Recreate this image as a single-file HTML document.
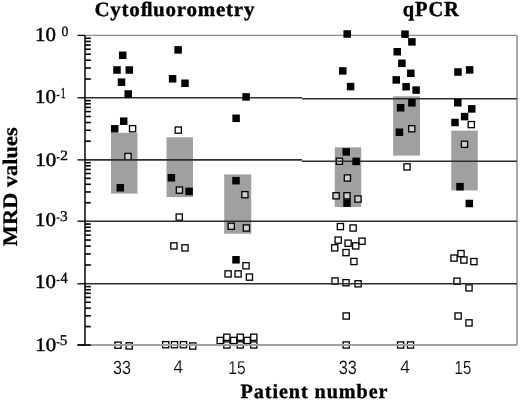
<!DOCTYPE html>
<html><head><meta charset="utf-8"><style>
html,body{margin:0;padding:0;background:#fff;}
body{width:520px;height:401px;overflow:hidden;}
svg{display:block;will-change:transform;text-rendering:geometricPrecision;}
</style></head><body>
<svg width="520" height="401" viewBox="0 0 520 401">
<rect width="520" height="401" fill="#fff"/>
<line x1="85.00" y1="35.4" x2="517.00" y2="35.4" stroke="#8c8c8c" stroke-width="1.2"/>
<line x1="517.00" y1="35.4" x2="517.00" y2="345" stroke="#8c8c8c" stroke-width="1.5"/>
<rect x="111.00" y="132.80" width="26.50" height="60.80" fill="#a0a0a0"/>
<rect x="166.50" y="137.25" width="26.50" height="59.85" fill="#a0a0a0"/>
<rect x="224.20" y="174.40" width="27.05" height="59.35" fill="#a0a0a0"/>
<rect x="334.75" y="147.30" width="26.50" height="59.70" fill="#a0a0a0"/>
<rect x="393.10" y="96.25" width="26.90" height="59.35" fill="#a0a0a0"/>
<rect x="451.25" y="130.60" width="26.50" height="59.80" fill="#a0a0a0"/>
<rect x="129.50" y="125.60" width="6.20" height="6.20" fill="#fff" stroke="#000" stroke-width="1.30"/>
<rect x="124.90" y="153.40" width="6.20" height="6.20" fill="#d0d0d0" stroke="#000" stroke-width="1.30"/>
<rect x="114.90" y="342.10" width="6.20" height="6.20" fill="#fff" stroke="#000" stroke-width="1.30"/>
<rect x="126.10" y="342.80" width="6.20" height="6.20" fill="#fff" stroke="#000" stroke-width="1.30"/>
<rect x="175.15" y="127.00" width="6.20" height="6.20" fill="#fff" stroke="#000" stroke-width="1.30"/>
<rect x="176.30" y="187.00" width="6.20" height="6.20" fill="#d0d0d0" stroke="#000" stroke-width="1.30"/>
<rect x="176.15" y="214.00" width="6.20" height="6.20" fill="#fff" stroke="#000" stroke-width="1.30"/>
<rect x="170.80" y="242.80" width="6.20" height="6.20" fill="#fff" stroke="#000" stroke-width="1.30"/>
<rect x="181.90" y="244.80" width="6.20" height="6.20" fill="#fff" stroke="#000" stroke-width="1.30"/>
<rect x="162.60" y="341.60" width="6.20" height="6.20" fill="#fff" stroke="#000" stroke-width="1.30"/>
<rect x="171.40" y="341.60" width="6.20" height="6.20" fill="#fff" stroke="#000" stroke-width="1.30"/>
<rect x="180.40" y="341.60" width="6.20" height="6.20" fill="#fff" stroke="#000" stroke-width="1.30"/>
<rect x="189.65" y="342.90" width="6.20" height="6.20" fill="#fff" stroke="#000" stroke-width="1.30"/>
<rect x="241.80" y="191.60" width="6.20" height="6.20" fill="#d0d0d0" stroke="#000" stroke-width="1.30"/>
<rect x="228.15" y="223.15" width="6.20" height="6.20" fill="#d0d0d0" stroke="#000" stroke-width="1.30"/>
<rect x="243.30" y="224.90" width="6.20" height="6.20" fill="#d0d0d0" stroke="#000" stroke-width="1.30"/>
<rect x="242.90" y="262.70" width="6.20" height="6.20" fill="#fff" stroke="#000" stroke-width="1.30"/>
<rect x="225.00" y="270.80" width="6.20" height="6.20" fill="#fff" stroke="#000" stroke-width="1.30"/>
<rect x="235.00" y="270.80" width="6.20" height="6.20" fill="#fff" stroke="#000" stroke-width="1.30"/>
<rect x="246.30" y="274.00" width="6.20" height="6.20" fill="#fff" stroke="#000" stroke-width="1.30"/>
<rect x="217.10" y="337.35" width="6.20" height="6.20" fill="#fff" stroke="#000" stroke-width="1.30"/>
<rect x="230.60" y="337.35" width="6.20" height="6.20" fill="#fff" stroke="#000" stroke-width="1.30"/>
<rect x="244.10" y="337.35" width="6.20" height="6.20" fill="#fff" stroke="#000" stroke-width="1.30"/>
<rect x="223.75" y="334.15" width="6.20" height="6.20" fill="#fff" stroke="#000" stroke-width="1.30"/>
<rect x="223.75" y="341.85" width="6.20" height="6.20" fill="#fff" stroke="#000" stroke-width="1.30"/>
<rect x="237.20" y="334.15" width="6.20" height="6.20" fill="#fff" stroke="#000" stroke-width="1.30"/>
<rect x="237.20" y="341.85" width="6.20" height="6.20" fill="#fff" stroke="#000" stroke-width="1.30"/>
<rect x="250.70" y="334.15" width="6.20" height="6.20" fill="#fff" stroke="#000" stroke-width="1.30"/>
<rect x="250.70" y="341.85" width="6.20" height="6.20" fill="#fff" stroke="#000" stroke-width="1.30"/>
<rect x="336.30" y="158.15" width="6.20" height="6.20" fill="#d0d0d0" stroke="#000" stroke-width="1.30"/>
<rect x="344.30" y="174.90" width="6.20" height="6.20" fill="#d0d0d0" stroke="#000" stroke-width="1.30"/>
<rect x="333.00" y="192.70" width="6.20" height="6.20" fill="#d0d0d0" stroke="#000" stroke-width="1.30"/>
<rect x="343.90" y="192.70" width="6.20" height="6.20" fill="#d0d0d0" stroke="#000" stroke-width="1.30"/>
<rect x="354.90" y="195.90" width="6.20" height="6.20" fill="#d0d0d0" stroke="#000" stroke-width="1.30"/>
<rect x="337.30" y="223.50" width="6.20" height="6.20" fill="#fff" stroke="#000" stroke-width="1.30"/>
<rect x="350.00" y="224.90" width="6.20" height="6.20" fill="#fff" stroke="#000" stroke-width="1.30"/>
<rect x="335.10" y="237.00" width="6.20" height="6.20" fill="#fff" stroke="#000" stroke-width="1.30"/>
<rect x="345.00" y="240.10" width="6.20" height="6.20" fill="#fff" stroke="#000" stroke-width="1.30"/>
<rect x="358.90" y="238.10" width="6.20" height="6.20" fill="#fff" stroke="#000" stroke-width="1.30"/>
<rect x="352.60" y="242.80" width="6.20" height="6.20" fill="#fff" stroke="#000" stroke-width="1.30"/>
<rect x="331.60" y="244.75" width="6.20" height="6.20" fill="#fff" stroke="#000" stroke-width="1.30"/>
<rect x="342.90" y="249.50" width="6.20" height="6.20" fill="#fff" stroke="#000" stroke-width="1.30"/>
<rect x="350.80" y="258.40" width="6.20" height="6.20" fill="#fff" stroke="#000" stroke-width="1.30"/>
<rect x="331.90" y="277.90" width="6.20" height="6.20" fill="#fff" stroke="#000" stroke-width="1.30"/>
<rect x="342.90" y="279.60" width="6.20" height="6.20" fill="#fff" stroke="#000" stroke-width="1.30"/>
<rect x="355.00" y="280.70" width="6.20" height="6.20" fill="#fff" stroke="#000" stroke-width="1.30"/>
<rect x="343.10" y="312.90" width="6.20" height="6.20" fill="#fff" stroke="#000" stroke-width="1.30"/>
<rect x="343.10" y="341.90" width="6.20" height="6.20" fill="#fff" stroke="#000" stroke-width="1.30"/>
<rect x="408.65" y="125.65" width="6.20" height="6.20" fill="#d0d0d0" stroke="#000" stroke-width="1.30"/>
<rect x="403.90" y="163.80" width="6.20" height="6.20" fill="#fff" stroke="#000" stroke-width="1.30"/>
<rect x="397.50" y="341.90" width="6.20" height="6.20" fill="#fff" stroke="#000" stroke-width="1.30"/>
<rect x="407.40" y="341.90" width="6.20" height="6.20" fill="#fff" stroke="#000" stroke-width="1.30"/>
<rect x="468.20" y="121.50" width="6.20" height="6.20" fill="#fff" stroke="#000" stroke-width="1.30"/>
<rect x="461.40" y="141.20" width="6.20" height="6.20" fill="#d0d0d0" stroke="#000" stroke-width="1.30"/>
<rect x="457.90" y="250.50" width="6.20" height="6.20" fill="#fff" stroke="#000" stroke-width="1.30"/>
<rect x="450.90" y="255.00" width="6.20" height="6.20" fill="#fff" stroke="#000" stroke-width="1.30"/>
<rect x="460.80" y="256.90" width="6.20" height="6.20" fill="#fff" stroke="#000" stroke-width="1.30"/>
<rect x="470.80" y="258.50" width="6.20" height="6.20" fill="#fff" stroke="#000" stroke-width="1.30"/>
<rect x="453.90" y="278.10" width="6.20" height="6.20" fill="#fff" stroke="#000" stroke-width="1.30"/>
<rect x="465.90" y="284.80" width="6.20" height="6.20" fill="#fff" stroke="#000" stroke-width="1.30"/>
<rect x="455.00" y="312.90" width="6.20" height="6.20" fill="#fff" stroke="#000" stroke-width="1.30"/>
<rect x="465.90" y="319.80" width="6.20" height="6.20" fill="#fff" stroke="#000" stroke-width="1.30"/>
<line x1="85.00" y1="97.80" x2="302.00" y2="97.80" stroke="#2e2e2e" stroke-width="1.60"/>
<line x1="302.00" y1="98.80" x2="517.00" y2="98.80" stroke="#2e2e2e" stroke-width="1.60"/>
<line x1="85.00" y1="159.90" x2="302.00" y2="159.90" stroke="#2e2e2e" stroke-width="1.60"/>
<line x1="302.00" y1="161.20" x2="517.00" y2="161.20" stroke="#2e2e2e" stroke-width="1.60"/>
<line x1="85.00" y1="221.20" x2="517.00" y2="221.20" stroke="#2e2e2e" stroke-width="1.60"/>
<line x1="85.00" y1="283.80" x2="517.00" y2="283.80" stroke="#2e2e2e" stroke-width="1.60"/>
<rect x="118.95" y="51.55" width="7.50" height="7.50" fill="#000"/>
<rect x="113.25" y="66.25" width="7.50" height="7.50" fill="#000"/>
<rect x="125.55" y="66.25" width="7.50" height="7.50" fill="#000"/>
<rect x="117.75" y="78.45" width="7.50" height="7.50" fill="#000"/>
<rect x="124.45" y="90.25" width="7.50" height="7.50" fill="#000"/>
<rect x="119.95" y="117.45" width="7.50" height="7.50" fill="#000"/>
<rect x="110.95" y="125.05" width="7.50" height="7.50" fill="#000"/>
<rect x="116.55" y="184.05" width="7.50" height="7.50" fill="#000"/>
<rect x="174.35" y="46.15" width="7.50" height="7.50" fill="#000"/>
<rect x="168.85" y="75.05" width="7.50" height="7.50" fill="#000"/>
<rect x="181.25" y="79.50" width="7.50" height="7.50" fill="#000"/>
<rect x="167.65" y="174.05" width="7.50" height="7.50" fill="#000"/>
<rect x="185.35" y="187.65" width="7.50" height="7.50" fill="#000"/>
<rect x="242.35" y="93.15" width="7.50" height="7.50" fill="#000"/>
<rect x="232.35" y="114.55" width="7.50" height="7.50" fill="#000"/>
<rect x="232.25" y="176.95" width="7.50" height="7.50" fill="#000"/>
<rect x="232.25" y="256.05" width="7.50" height="7.50" fill="#000"/>
<rect x="343.45" y="30.25" width="7.50" height="7.50" fill="#000"/>
<rect x="339.05" y="67.15" width="7.50" height="7.50" fill="#000"/>
<rect x="346.85" y="82.85" width="7.50" height="7.50" fill="#000"/>
<rect x="342.50" y="148.15" width="7.50" height="7.50" fill="#000"/>
<rect x="352.35" y="157.65" width="7.50" height="7.50" fill="#000"/>
<rect x="343.25" y="199.35" width="7.50" height="7.50" fill="#000"/>
<rect x="401.25" y="30.45" width="7.50" height="7.50" fill="#000"/>
<rect x="408.15" y="38.15" width="7.50" height="7.50" fill="#000"/>
<rect x="393.50" y="48.00" width="7.50" height="7.50" fill="#000"/>
<rect x="398.15" y="59.55" width="7.50" height="7.50" fill="#000"/>
<rect x="407.05" y="69.55" width="7.50" height="7.50" fill="#000"/>
<rect x="392.50" y="76.15" width="7.50" height="7.50" fill="#000"/>
<rect x="402.35" y="82.95" width="7.50" height="7.50" fill="#000"/>
<rect x="412.35" y="86.35" width="7.50" height="7.50" fill="#000"/>
<rect x="408.15" y="99.05" width="7.50" height="7.50" fill="#000"/>
<rect x="396.85" y="104.00" width="7.50" height="7.50" fill="#000"/>
<rect x="395.65" y="128.50" width="7.50" height="7.50" fill="#000"/>
<rect x="454.25" y="68.25" width="7.50" height="7.50" fill="#000"/>
<rect x="465.85" y="66.15" width="7.50" height="7.50" fill="#000"/>
<rect x="454.05" y="99.00" width="7.50" height="7.50" fill="#000"/>
<rect x="468.00" y="105.15" width="7.50" height="7.50" fill="#000"/>
<rect x="460.85" y="112.85" width="7.50" height="7.50" fill="#000"/>
<rect x="451.25" y="118.75" width="7.50" height="7.50" fill="#000"/>
<rect x="456.25" y="182.95" width="7.50" height="7.50" fill="#000"/>
<rect x="465.55" y="199.75" width="7.50" height="7.50" fill="#000"/>
<line x1="85.00" y1="345" x2="517.00" y2="345" stroke="#a0a0a0" stroke-width="1.8"/>
<line x1="85.00" y1="35.4" x2="85.00" y2="345.6" stroke="#141414" stroke-width="1.6"/>
<line x1="77.5" y1="35.40" x2="85.00" y2="35.40" stroke="#000" stroke-width="1.3"/>
<line x1="85.00" y1="79.02" x2="90.8" y2="79.02" stroke="#000" stroke-width="1.6"/>
<line x1="85.00" y1="68.03" x2="90.8" y2="68.03" stroke="#000" stroke-width="1.6"/>
<line x1="85.00" y1="60.23" x2="90.8" y2="60.23" stroke="#000" stroke-width="1.6"/>
<line x1="85.00" y1="54.18" x2="90.8" y2="54.18" stroke="#000" stroke-width="1.6"/>
<line x1="85.00" y1="49.24" x2="90.8" y2="49.24" stroke="#000" stroke-width="1.6"/>
<line x1="85.00" y1="45.07" x2="90.8" y2="45.07" stroke="#000" stroke-width="1.6"/>
<line x1="85.00" y1="41.45" x2="90.8" y2="41.45" stroke="#000" stroke-width="1.6"/>
<line x1="85.00" y1="38.26" x2="90.8" y2="38.26" stroke="#000" stroke-width="1.6"/>
<line x1="77.5" y1="97.80" x2="85.00" y2="97.80" stroke="#000" stroke-width="1.3"/>
<line x1="85.00" y1="141.21" x2="90.8" y2="141.21" stroke="#000" stroke-width="1.6"/>
<line x1="85.00" y1="130.27" x2="90.8" y2="130.27" stroke="#000" stroke-width="1.6"/>
<line x1="85.00" y1="122.51" x2="90.8" y2="122.51" stroke="#000" stroke-width="1.6"/>
<line x1="85.00" y1="116.49" x2="90.8" y2="116.49" stroke="#000" stroke-width="1.6"/>
<line x1="85.00" y1="111.58" x2="90.8" y2="111.58" stroke="#000" stroke-width="1.6"/>
<line x1="85.00" y1="107.42" x2="90.8" y2="107.42" stroke="#000" stroke-width="1.6"/>
<line x1="85.00" y1="103.82" x2="90.8" y2="103.82" stroke="#000" stroke-width="1.6"/>
<line x1="85.00" y1="100.64" x2="90.8" y2="100.64" stroke="#000" stroke-width="1.6"/>
<line x1="77.5" y1="159.90" x2="85.00" y2="159.90" stroke="#000" stroke-width="1.3"/>
<line x1="85.00" y1="202.75" x2="90.8" y2="202.75" stroke="#000" stroke-width="1.6"/>
<line x1="85.00" y1="191.95" x2="90.8" y2="191.95" stroke="#000" stroke-width="1.6"/>
<line x1="85.00" y1="184.29" x2="90.8" y2="184.29" stroke="#000" stroke-width="1.6"/>
<line x1="85.00" y1="178.35" x2="90.8" y2="178.35" stroke="#000" stroke-width="1.6"/>
<line x1="85.00" y1="173.50" x2="90.8" y2="173.50" stroke="#000" stroke-width="1.6"/>
<line x1="85.00" y1="169.40" x2="90.8" y2="169.40" stroke="#000" stroke-width="1.6"/>
<line x1="85.00" y1="165.84" x2="90.8" y2="165.84" stroke="#000" stroke-width="1.6"/>
<line x1="85.00" y1="162.70" x2="90.8" y2="162.70" stroke="#000" stroke-width="1.6"/>
<line x1="77.5" y1="221.20" x2="85.00" y2="221.20" stroke="#000" stroke-width="1.3"/>
<line x1="85.00" y1="264.96" x2="90.8" y2="264.96" stroke="#000" stroke-width="1.6"/>
<line x1="85.00" y1="253.93" x2="90.8" y2="253.93" stroke="#000" stroke-width="1.6"/>
<line x1="85.00" y1="246.11" x2="90.8" y2="246.11" stroke="#000" stroke-width="1.6"/>
<line x1="85.00" y1="240.04" x2="90.8" y2="240.04" stroke="#000" stroke-width="1.6"/>
<line x1="85.00" y1="235.09" x2="90.8" y2="235.09" stroke="#000" stroke-width="1.6"/>
<line x1="85.00" y1="230.90" x2="90.8" y2="230.90" stroke="#000" stroke-width="1.6"/>
<line x1="85.00" y1="227.27" x2="90.8" y2="227.27" stroke="#000" stroke-width="1.6"/>
<line x1="85.00" y1="224.06" x2="90.8" y2="224.06" stroke="#000" stroke-width="1.6"/>
<line x1="77.5" y1="283.80" x2="85.00" y2="283.80" stroke="#000" stroke-width="1.3"/>
<line x1="85.00" y1="326.58" x2="90.8" y2="326.58" stroke="#000" stroke-width="1.6"/>
<line x1="85.00" y1="315.80" x2="90.8" y2="315.80" stroke="#000" stroke-width="1.6"/>
<line x1="85.00" y1="308.15" x2="90.8" y2="308.15" stroke="#000" stroke-width="1.6"/>
<line x1="85.00" y1="302.22" x2="90.8" y2="302.22" stroke="#000" stroke-width="1.6"/>
<line x1="85.00" y1="297.38" x2="90.8" y2="297.38" stroke="#000" stroke-width="1.6"/>
<line x1="85.00" y1="293.28" x2="90.8" y2="293.28" stroke="#000" stroke-width="1.6"/>
<line x1="85.00" y1="289.73" x2="90.8" y2="289.73" stroke="#000" stroke-width="1.6"/>
<line x1="85.00" y1="286.60" x2="90.8" y2="286.60" stroke="#000" stroke-width="1.6"/>
<line x1="77.5" y1="345.00" x2="85.00" y2="345.00" stroke="#000" stroke-width="1.3"/>
<line x1="77.5" y1="345" x2="90.8" y2="345" stroke="#000" stroke-width="1.5"/>
<line x1="56.6" y1="95.50" x2="59.5" y2="95.50" stroke="#000" stroke-width="1.3"/>
<line x1="56.6" y1="157.80" x2="59.5" y2="157.80" stroke="#000" stroke-width="1.3"/>
<line x1="56.6" y1="218.10" x2="59.5" y2="218.10" stroke="#000" stroke-width="1.3"/>
<line x1="56.6" y1="280.50" x2="59.5" y2="280.50" stroke="#000" stroke-width="1.3"/>
<line x1="56.6" y1="342.80" x2="59.5" y2="342.80" stroke="#000" stroke-width="1.3"/>
<text transform="matrix(0.9544 0.0000 0.0000 0.9205 94.429 15.816)" font-family="Liberation Serif, serif" font-weight="bold" font-size="22" stroke="#000" stroke-width="0.40" letter-spacing="0.8">Cytoﬂuorometry</text>
<text transform="matrix(0.9300 0.0000 0.0000 0.9692 402.670 15.722)" font-family="Liberation Serif, serif" font-weight="bold" font-size="22" stroke="#000" stroke-width="0.40" letter-spacing="1.0">qPCR</text>
<text transform="matrix(0.9164 0.0000 0.0000 0.9187 240.578 398.360)" font-family="Liberation Serif, serif" font-weight="bold" font-size="22" stroke="#000" stroke-width="0.40" letter-spacing="1.0">Patient number</text>
<text transform="matrix(0.0000 -1.0664 0.9836 0.0000 16.762 246.182)" font-family="Liberation Serif, serif" font-weight="bold" font-size="21" stroke="#000" stroke-width="0.30">MRD values</text>
<text transform="matrix(1.0417 0.0000 0.0000 0.9893 35.096 41.307)" font-family="Liberation Serif, serif" font-weight="normal" font-size="20" stroke="#000" stroke-width="0.45">10</text>
<text transform="matrix(1.0417 0.0000 0.0000 0.9786 35.086 103.180)" font-family="Liberation Serif, serif" font-weight="normal" font-size="20" stroke="#000" stroke-width="0.45">10</text>
<text transform="matrix(1.0417 0.0000 0.0000 0.9571 35.237 165.621)" font-family="Liberation Serif, serif" font-weight="normal" font-size="20" stroke="#000" stroke-width="0.45">10</text>
<text transform="matrix(1.0417 0.0000 0.0000 0.9714 35.097 225.837)" font-family="Liberation Serif, serif" font-weight="normal" font-size="20" stroke="#000" stroke-width="0.45">10</text>
<text transform="matrix(1.0417 0.0000 0.0000 0.9786 35.105 288.178)" font-family="Liberation Serif, serif" font-weight="normal" font-size="20" stroke="#000" stroke-width="0.45">10</text>
<text transform="matrix(1.0417 0.0000 0.0000 0.9500 35.237 350.625)" font-family="Liberation Serif, serif" font-weight="normal" font-size="20" stroke="#000" stroke-width="0.45">10</text>
<text transform="matrix(0.9833 0.0000 0.0000 1.0103 61.450 35.543)" font-family="Liberation Serif, serif" font-weight="normal" font-size="14" stroke="#000" stroke-width="0.30">0</text>
<text transform="matrix(0.7048 0.0000 0.0000 1.0811 60.818 98.452)" font-family="Liberation Serif, serif" font-weight="normal" font-size="14" stroke="#000" stroke-width="0.30">1</text>
<text transform="matrix(1.1478 0.0000 0.0000 1.0053 60.026 160.300)" font-family="Liberation Serif, serif" font-weight="normal" font-size="14" stroke="#000" stroke-width="0.30">2</text>
<text transform="matrix(1.1000 0.0000 0.0000 1.0564 60.050 220.636)" font-family="Liberation Serif, serif" font-weight="normal" font-size="14" stroke="#000" stroke-width="0.30">3</text>
<text transform="matrix(1.0222 0.0000 0.0000 1.1135 60.461 283.139)" font-family="Liberation Serif, serif" font-weight="normal" font-size="14" stroke="#000" stroke-width="0.30">4</text>
<text transform="matrix(1.0957 0.0000 0.0000 1.0632 59.778 345.334)" font-family="Liberation Serif, serif" font-weight="normal" font-size="14" stroke="#000" stroke-width="0.30">5</text>
<text transform="matrix(1.0092 0.0000 0.0000 1.1909 113.043 373.900)" font-family="Liberation Sans, sans-serif" font-weight="normal" font-size="16" stroke="#fff" stroke-width="0.12">33</text>
<text transform="matrix(1.0710 0.0000 0.0000 1.1364 173.401 373.428)" font-family="Liberation Sans, sans-serif" font-weight="normal" font-size="16" stroke="#fff" stroke-width="0.12">4</text>
<text transform="matrix(0.9714 0.0000 0.0000 1.1682 228.286 373.750)" font-family="Liberation Sans, sans-serif" font-weight="normal" font-size="16" stroke="#fff" stroke-width="0.12">15</text>
<text transform="matrix(1.0154 0.0000 0.0000 1.2000 338.838 374.000)" font-family="Liberation Sans, sans-serif" font-weight="normal" font-size="16" stroke="#fff" stroke-width="0.12">33</text>
<text transform="matrix(1.0839 0.0000 0.0000 1.1364 400.258 373.300)" font-family="Liberation Sans, sans-serif" font-weight="normal" font-size="16" stroke="#fff" stroke-width="0.12">4</text>
<text transform="matrix(0.9333 0.0000 0.0000 1.1773 454.580 373.565)" font-family="Liberation Sans, sans-serif" font-weight="normal" font-size="16" stroke="#fff" stroke-width="0.12">15</text>
</svg>
</body></html>
